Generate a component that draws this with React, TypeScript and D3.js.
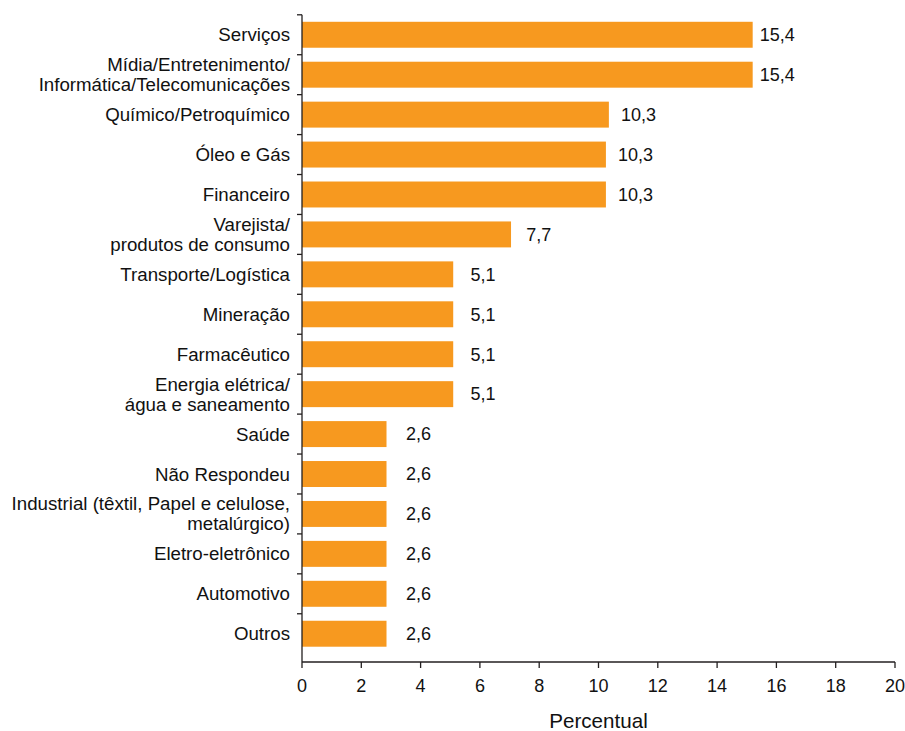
import React from "react";
import * as d3 from "d3";

const categories = [
  "Serviços",
  "Mídia/Entretenimento/\nInformática/Telecomunicações",
  "Químico/Petroquímico",
  "Óleo e Gás",
  "Financeiro",
  "Varejista/\nprodutos de consumo",
  "Transporte/Logística",
  "Mineração",
  "Farmacêutico",
  "Energia elétrica/\nágua e saneamento",
  "Saúde",
  "Não Respondeu",
  "Industrial (têxtil, Papel e celulose,\nmetalúrgico)",
  "Eletro-eletrônico",
  "Automotivo",
  "Outros",
];
// bar lengths as drawn in the picture
const barValues = [15.2, 15.2, 10.35, 10.25, 10.25, 7.05, 5.1, 5.1, 5.1, 5.1, 2.85, 2.85, 2.85, 2.85, 2.85, 2.85];
// printed value labels
const valueLabels = ["15,4", "15,4", "10,3", "10,3", "10,3", "7,7", "5,1", "5,1", "5,1", "5,1", "2,6", "2,6", "2,6", "2,6", "2,6", "2,6"];
const xTicks = [0, 2, 4, 6, 8, 10, 12, 14, 16, 18, 20];
const axisTitle = "Percentual";

const W = 905;
const H = 731;
const FONT = "Arial, 'Liberation Sans', Helvetica, sans-serif";
const ORANGE = "#F7991F";
const AXIS = "#231f20";

export default function App() {
  const x = d3.scaleLinear().domain([0, 20]).range([302, 895]);
  const y = d3
    .scaleBand<string>()
    .domain(categories)
    .range([14.8, 653.7])
    .paddingInner(0.35)
    .paddingOuter(0.175);
  const axisY = 662;
  const step = y.step();
  const top = y.range()[0];
  const boundaries = d3.range(categories.length).map((i) => top + i * step);
  const lineH = 20;
  // value labels sit a little further from short bars than from long ones
  const labelX = (v: number) => 0.966 * x(v) + 32.7;

  return (
    <svg
      width={W}
      height={H}
      style={{ position: "absolute", left: 0, top: 0, background: "#fff" }}
      fontFamily={FONT}
    >
      <rect x={0} y={0} width={W} height={H} fill="#fff" />
      {categories.map((c, i) => {
        const y0 = y(c)!;
        const cy = y0 + y.bandwidth() / 2;
        const lines = c.split("\n");
        return (
          <g key={c}>
            <rect x={x(0)} y={y0} width={x(barValues[i]) - x(0)} height={y.bandwidth()} fill={ORANGE} />
            <text x={labelX(barValues[i])} y={cy} dy="0.35em" fontSize={18} fill="#111">
              {valueLabels[i]}
            </text>
            <text x={290} y={cy} textAnchor="end" fontSize={18.7} fill="#111">
              {lines.map((l, k) => (
                <tspan key={k} x={290} y={cy + (k - (lines.length - 1) / 2) * lineH} dy="0.35em">
                  {l}
                </tspan>
              ))}
            </text>
          </g>
        );
      })}
      {/* y axis */}
      <line x1={x(0)} x2={x(0)} y1={top} y2={axisY} stroke={AXIS} strokeWidth={1.3} />
      {boundaries.map((b, i) => (
        <line key={i} x1={x(0) - 5} x2={x(0)} y1={b} y2={b} stroke={AXIS} strokeWidth={1.3} />
      ))}
      {/* x axis */}
      <line x1={x(0)} x2={x(20)} y1={axisY} y2={axisY} stroke={AXIS} strokeWidth={1.3} />
      {xTicks.map((t) => (
        <g key={t}>
          <line x1={x(t)} x2={x(t)} y1={axisY} y2={axisY + 6} stroke={AXIS} strokeWidth={1.3} />
          <text x={x(t)} y={692} textAnchor="middle" fontSize={18} fill="#111">
            {t}
          </text>
        </g>
      ))}
      <text x={(x(0) + x(20)) / 2} y={728} textAnchor="middle" fontSize={20.6} fill="#111">
        {axisTitle}
      </text>
    </svg>
  );
}
